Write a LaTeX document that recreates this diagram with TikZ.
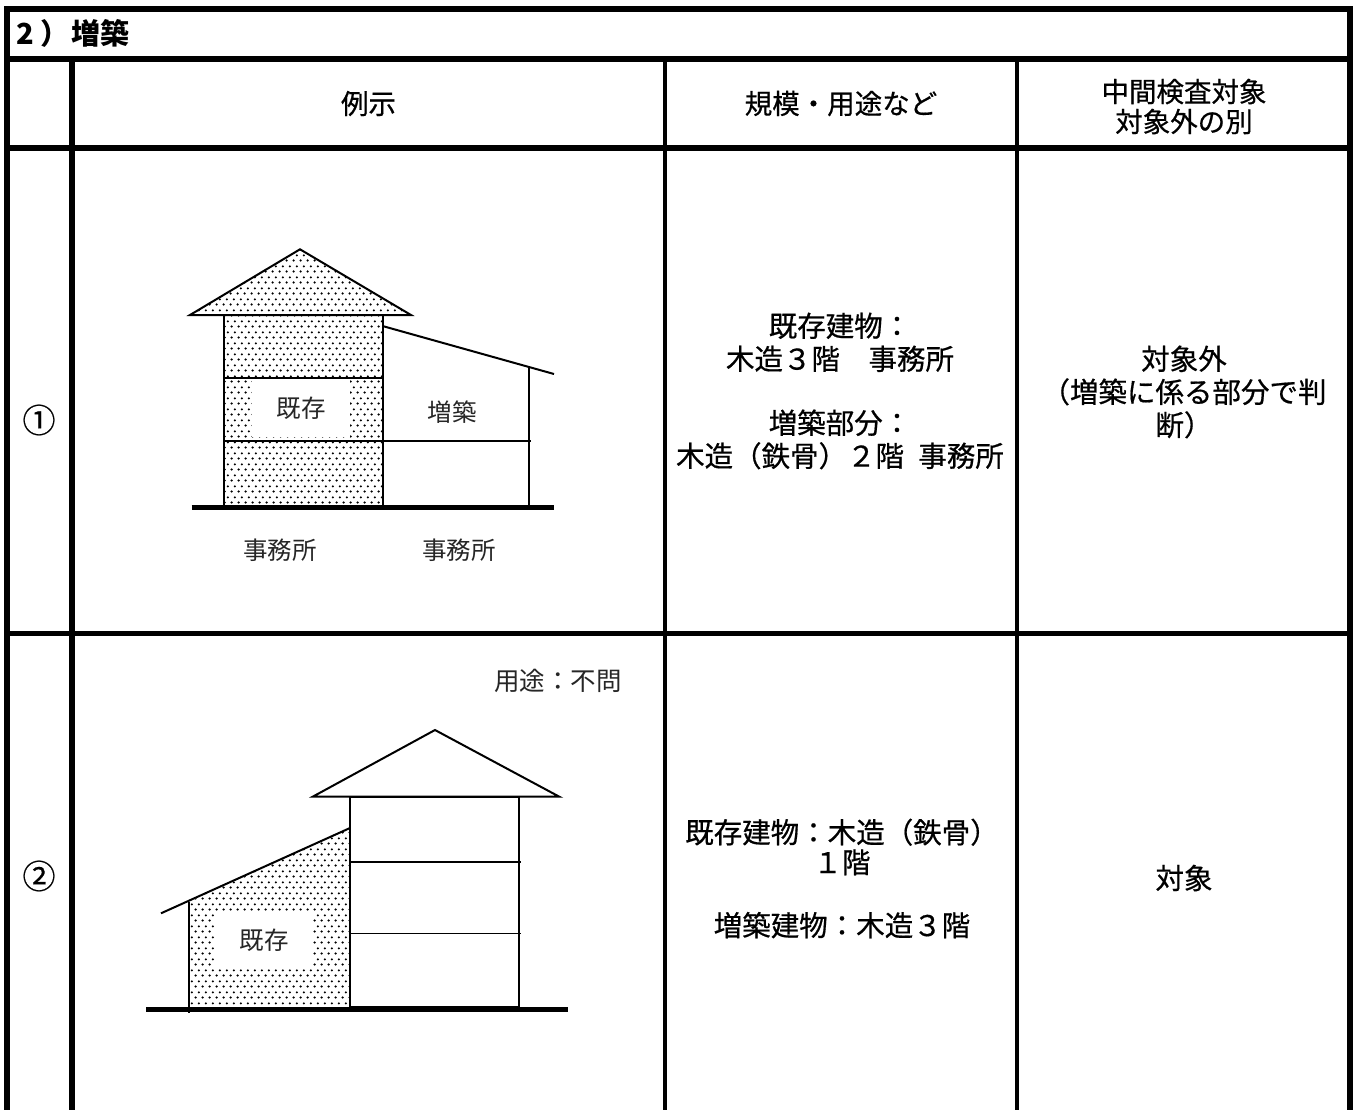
\documentclass[tikz,border=0pt]{standalone}
\usepackage{fontspec}
\setmainfont{Noto Sans CJK JP}
\newfontfamily\celljp{Noto Sans CJK JP}[FakeBold=0.6]
\usetikzlibrary{patterns}
\pgfdeclarepatternformonly{kisondots}{\pgfpointorigin}{\pgfqpoint{3.6pt}{5.5pt}}{\pgfqpoint{3.6pt}{5.5pt}}{%
  \pgfpathcircle{\pgfqpoint{0.9pt}{1.375pt}}{0.65pt}%
  \pgfpathcircle{\pgfqpoint{2.7pt}{4.125pt}}{0.65pt}%
  \pgfusepath{fill}}
\newcommand\cellsize{\celljp\fontsize{14.25pt}{16.5pt}\selectfont}
\newcommand\headsize{\celljp\fontsize{13.75pt}{15pt}\selectfont}
\newcommand\bldsize{\fontsize{12.25pt}{14pt}\selectfont}

\begin{document}
\begin{tikzpicture}[x=0.5pt, y=-0.5pt,
    thickrule/.style={line width=3pt},
    rowrule/.style={line width=2.5pt},
    thinrule/.style={line width=2pt},
    bldline/.style={line width=1pt},
    floorline/.style={line width=0.8pt},
    groundline/.style={line width=2.5pt},
    dotfill/.style={pattern=kisondots},
    celltext/.style={font=\cellsize, align=center, inner sep=0pt},
    headtext/.style={font=\headsize, align=center, inner sep=0pt},
    numtext/.style={font=\celljp\fontsize{16.5pt}{18pt}\selectfont, inner sep=0pt},
    bldtext/.style={font=\bldsize, text=black!85, inner sep=0pt},
    kisonbox/.style={bldtext, fill=white, minimum width=49pt, minimum height=28.5pt}]
    \useasboundingbox (0,0) rectangle (1357,1110);

    % table
    \draw [thickrule] (7,1115) -- (7,9) -- (1350,9) -- (1350,1115);
    \draw [thickrule] (7,59) -- (1350,59);
    \draw [thickrule] (7,147.5) -- (1350,147.5);
    \draw [rowrule] (7,633) -- (1350,633);
    \draw [thickrule] (72,59) -- (72,1115);
    \draw [thinrule] (665,59) -- (665,1115);
    \draw [thinrule] (1017,59) -- (1017,1115);

    \node [anchor=west, inner sep=0pt, font=\fontsize{14.5pt}{16pt}\selectfont\bfseries] (title) at (16,33) {2\hspace{3pt}）\hspace{1pt}増築};
    \node [headtext] (headEx) at (368.5,103.5) {例示};
    \node [headtext] (headSpec) at (841,103.5) {規模・用途など};
    \node [headtext] (headJudge) at (1184,106.5) {中間検査対象\\対象外の別};

    \node [numtext] (no1) at (39,420) {①};
    \node [numtext] (no2) at (39,876) {②};

    \node [celltext] (specA) at (840,391) {既存建物：\\木造３階　事務所\\[15.5pt]増築部分：\\木造（鉄骨）２階\enspace 事務所};
    \node [celltext] (judgeA) at (1184,392) {対象外\\（増築に係る部分で判\\断）};
    \node [celltext, font=\celljp\fontsize{14.25pt}{15pt}\selectfont] (specB) at (842,878.5) {既存建物：木造（鉄骨）\\１階\\[16.5pt]増築建物：木造３階};
    \node [celltext] (judgeB) at (1184,878) {対象};

    % example 1
    \fill [dotfill] (190,315) -- (300,249.3) -- (411,315) -- cycle;
    \fill [dotfill] (223.5,315) rectangle (382.5,506);
    \draw [bldline] (190,315) -- (300,249.3) -- (411,315) -- cycle;
    \draw [bldline] (223.5,506) -- (223.5,315) -- (382.5,315) -- (382.5,506);
    \draw [floorline] (223.5,378) -- (382.5,378);
    \draw [floorline] (223.5,441) -- (531,441);
    \draw [bldline] (382.5,326) -- (554,374);
    \draw [bldline] (529,367) -- (529,506);
    \draw [groundline] (191.5,507) -- (553.5,507);
    \node [kisonbox] (kisonA) at (301,408.5) {既存};
    \node [bldtext] (zouchikuA) at (452,412) {増築};
    \node [bldtext] (jimushoA) at (280,550) {事務所};
    \node [bldtext] (jimushoB) at (459,550) {事務所};

    % example 2
    \node [bldtext, font=\fontsize{12.75pt}{14pt}\selectfont] (youto) at (558,681) {用途：不問};
    \fill [dotfill] (189.3,901.7) -- (350,828) -- (350,1007) -- (189.3,1007) -- cycle;
    \draw [bldline] (161,913.3) -- (350,828);
    \draw [bldline] (189.3,901.7) -- (189.3,1012.7);
    \draw [bldline] (312.7,796.7) -- (435,730) -- (559.3,796.7) -- cycle;
    \draw [bldline] (350,796.7) rectangle (519.3,1007);
    \draw [floorline] (350,861.7) -- (520.7,861.7);
    \draw [floorline] (350,933.3) -- (520.7,933.3);
    \draw [groundline] (146,1009) -- (568,1009);
    \node [kisonbox] (kisonB) at (264,940) {既存};
\end{tikzpicture}
\end{document}
